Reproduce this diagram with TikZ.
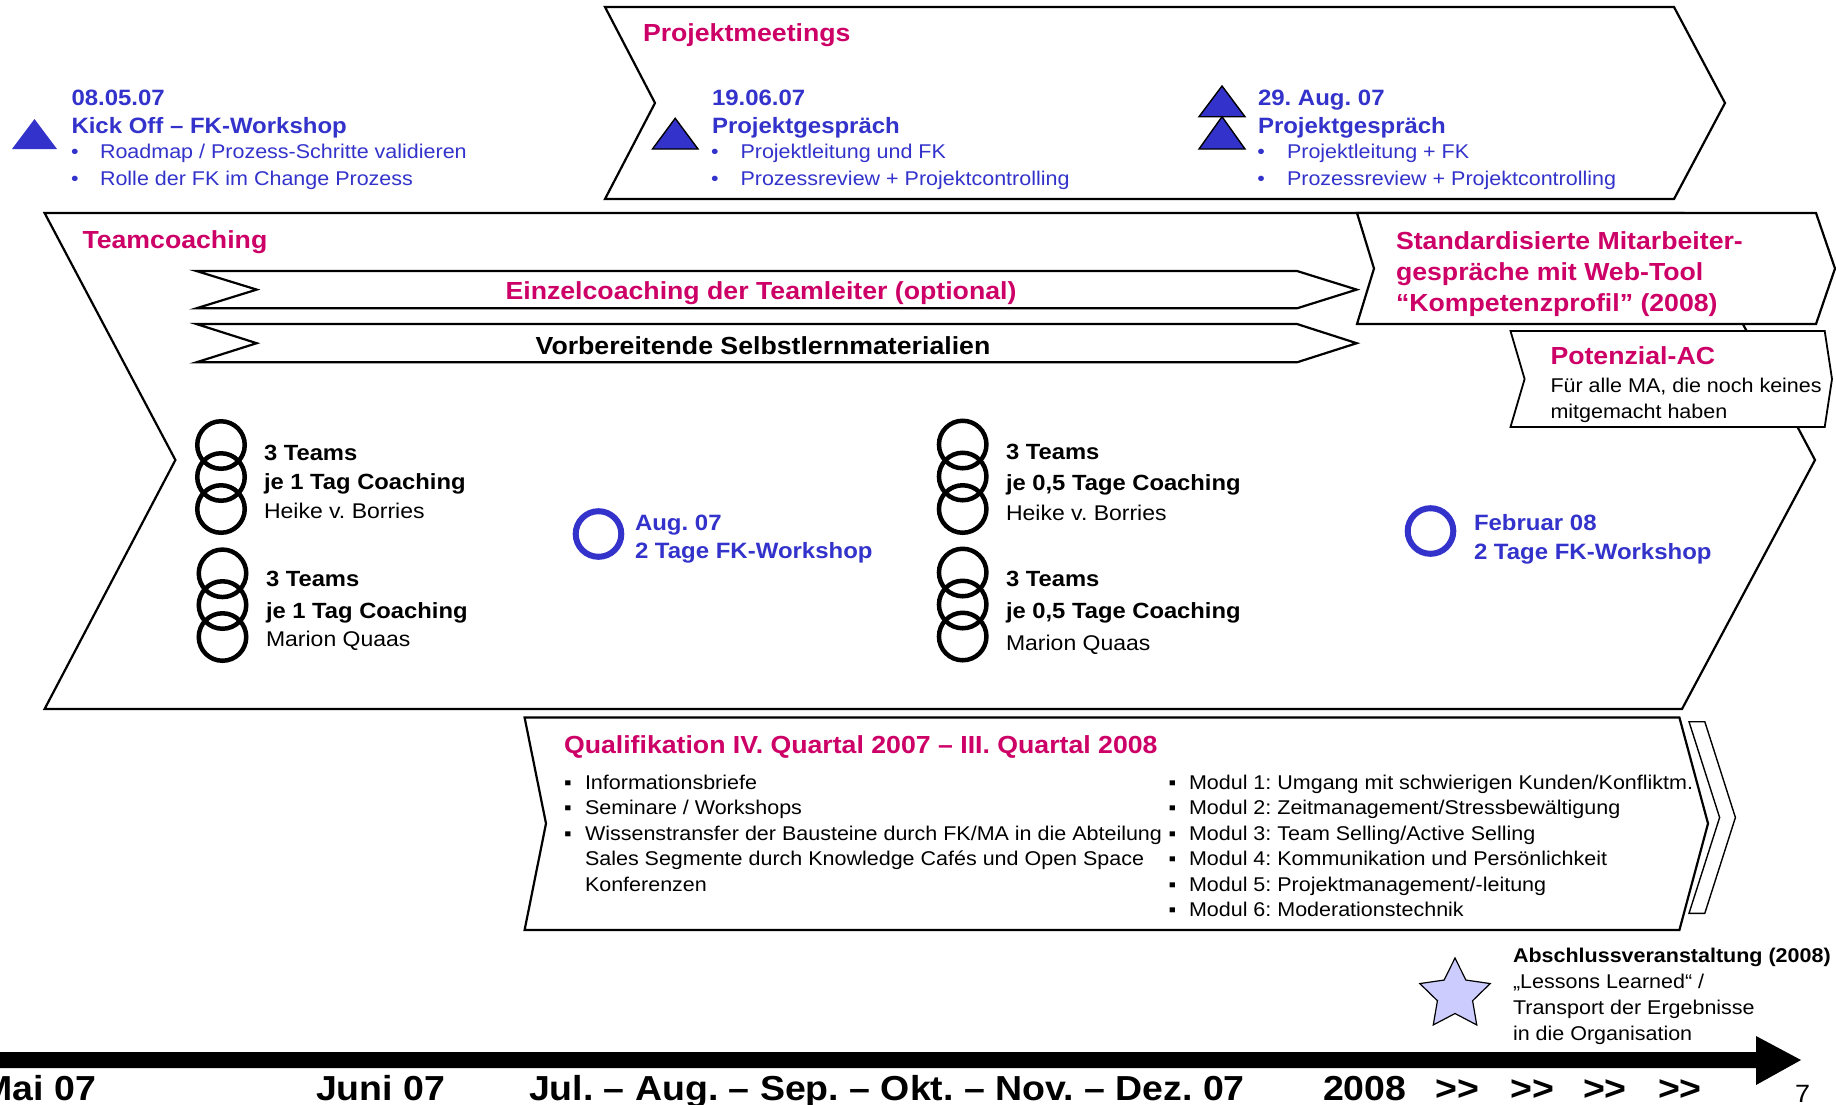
\documentclass[tikz,border=0pt]{standalone}
\usepackage{fontspec}
\setmainfont{Liberation Sans}[FakeStretch=1.08]
\frenchspacing
\usetikzlibrary{shapes.geometric}
\definecolor{tblue}{HTML}{3333CC}
\definecolor{tpink}{HTML}{CC0066}
\definecolor{starfill}{HTML}{CCCCFF}
\begin{document}
\begin{tikzpicture}[x=1pt,y=-1pt,
  txt/.style={anchor=base west,inner sep=0pt,outer sep=0pt},
  bul/.style={anchor=base,inner sep=0pt,outer sep=0pt},
  pinkhead/.style={txt,font=\fontsize{24.7}{30}\selectfont\bfseries,text=tpink},
  bluehead/.style={txt,font=\fontsize{22.2}{28}\selectfont\bfseries,text=tblue},
  bluebody/.style={txt,font=\fontsize{19.9}{26}\selectfont,text=tblue},
  bluebul/.style={bul,font=\fontsize{19.9}{26}\selectfont,text=tblue},
  body/.style={txt,font=\fontsize{19.9}{26}\selectfont,text=black},
  blackbul/.style={bul,font=\fontsize{19.9}{26}\selectfont,text=black},
  bodybold/.style={txt,font=\fontsize{19.9}{26}\selectfont\bfseries,text=black},
  coachbold/.style={txt,font=\fontsize{22}{28}\selectfont\bfseries,text=black},
  coachreg/.style={txt,font=\fontsize{21.3}{28}\selectfont,text=black},
  tline/.style={txt,font=\fontsize{34.7}{40}\selectfont\bfseries,text=black},
  frame/.style={draw=black,line width=2.2pt,fill=white,line join=miter},
  ring/.style={draw=black,line width=4.5pt},
  bluering/.style={draw=tblue,line width=6pt},
  tri/.style={fill=tblue,draw=black,line width=1.4pt,line join=miter}
]
\useasboundingbox (0,0) rectangle (1836,1104);
\clip (0,0) rectangle (1836,1104);
\fill[white] (0,0) rectangle (1836,1104);

% ---------- Kick off ----------
\fill[tblue] (12,149) -- (57,149) -- (34.5,119) -- cycle;
\node[bluehead] (ko1) at (71.5,105.5) {08.05.07};
\node[bluehead] (ko2) at (71.5,133) {Kick Off – FK-Workshop};
\node[bluebul] (ko3b) at (75,158.5) {•};
\node[bluebody] (ko3) at (100,158.5) {Roadmap / Prozess-Schritte validieren};
\node[bluebul] (ko4b) at (75,185.5) {•};
\node[bluebody] (ko4) at (100,185.5) {Rolle der FK im Change Prozess};

% ---------- Projektmeetings ----------
\draw[frame] (605,7) -- (1674,7) -- (1725,103) -- (1674,199) -- (605,199) -- (655,103) -- cycle;
\node[pinkhead] (pm) at (643,41.5) {Projektmeetings};
\draw[tri] (652.5,149) -- (698,149) -- (675.2,118.3) -- cycle;
\node[bluehead] (pa1) at (712,105.5) {19.06.07};
\node[bluehead] (pa2) at (712,133) {Projektgespräch};
\node[bluebul] (pa3b) at (715,158.5) {•};
\node[bluebody] (pa3) at (740.5,158.5) {Projektleitung und FK};
\node[bluebul] (pa4b) at (715,185.5) {•};
\node[bluebody] (pa4) at (740.5,185.5) {Prozessreview + Projektcontrolling};
\draw[tri] (1199,116.7) -- (1245,116.7) -- (1222,86) -- cycle;
\draw[tri] (1199,149) -- (1245,149) -- (1222,116.7) -- cycle;
\node[bluehead] (pb1) at (1258,105.5) {29. Aug. 07};
\node[bluehead] (pb2) at (1258,133) {Projektgespräch};
\node[bluebul] (pb3b) at (1261,158.5) {•};
\node[bluebody] (pb3) at (1287,158.5) {Projektleitung + FK};
\node[bluebul] (pb4b) at (1261,185.5) {•};
\node[bluebody] (pb4) at (1287,185.5) {Prozessreview + Projektcontrolling};

% ---------- Teamcoaching ----------
\draw[frame] (44.6,213) -- (1684,213) -- (1815,460) -- (1682,709) -- (44.6,709) -- (175.4,460) -- cycle;
\node[pinkhead] (tc) at (82.5,248) {Teamcoaching};
\draw[frame] (196.4,271) -- (1297,271) -- (1356.7,289.6) -- (1297,308.3) -- (196.4,308.3) -- (256.7,289.6) -- cycle;
\node[pinkhead,anchor=base] (ez) at (761,299) {Einzelcoaching der Teamleiter (optional)};
\draw[frame] (196.4,324) -- (1297,324) -- (1356.7,343.2) -- (1297,362.3) -- (196.4,362.3) -- (256.7,343.2) -- cycle;
\node[pinkhead,anchor=base,text=black] (vb) at (763,354) {Vorbereitende Selbstlernmaterialien};

% Standardisierte / Potenzial
\draw[frame] (1357,213) -- (1816,213) -- (1835,268.5) -- (1816,324) -- (1357,324) -- (1374,268.5) -- cycle;
\node[pinkhead] (st1) at (1396,249) {Standardisierte Mitarbeiter-};
\node[pinkhead] (st2) at (1396,280) {gespräche mit Web-Tool};
\node[pinkhead] (st3) at (1396,311) {“Kompetenzprofil” (2008)};
\draw[frame,line width=1.8pt] (1510.5,331) -- (1824.7,331) -- (1832,379) -- (1824.7,427) -- (1510.5,427) -- (1524.6,379) -- cycle;
\node[pinkhead] (po1) at (1550.5,364) {Potenzial-AC};
\node[body] (po2) at (1550.5,392) {Für alle MA, die noch keines};
\node[body] (po3) at (1550.5,418) {mitgemacht haben};

% rings group 1
\foreach \yy in {445,477,509} \draw[ring] (221,\yy) circle[radius=23.75];
\node[coachbold] (g1a) at (264,460.5) {3 Teams};
\node[coachbold] (g1b) at (264,489.5) {je 1 Tag Coaching};
\node[coachreg] (g1c) at (264,518) {Heike v. Borries};
% rings group 2
\foreach \yy in {573.3,605,637} \draw[ring] (222.5,\yy) circle[radius=23.75];
\node[coachbold] (g2a) at (266,586.7) {3 Teams};
\node[coachbold] (g2b) at (266,618) {je 1 Tag Coaching};
\node[coachreg] (g2c) at (266,646.5) {Marion Quaas};
% rings group 3
\foreach \yy in {444.5,476.5,509} \draw[ring] (962.7,\yy) circle[radius=23.75];
\node[coachbold] (g3a) at (1006,459) {3 Teams};
\node[coachbold] (g3b) at (1006,490) {je 0,5 Tage Coaching};
\node[coachreg] (g3c) at (1006,520.5) {Heike v. Borries};
% rings group 4
\foreach \yy in {572.5,604.5,636.5} \draw[ring] (962.7,\yy) circle[radius=23.75];
\node[coachbold] (g4a) at (1006,586.7) {3 Teams};
\node[coachbold] (g4b) at (1006,618) {je 0,5 Tage Coaching};
\node[coachreg] (g4c) at (1006,650) {Marion Quaas};

% workshops
\draw[bluering] (598.5,534) circle[radius=22.8];
\node[bluehead] (w1a) at (635,530) {Aug. 07};
\node[bluehead] (w1b) at (635,558) {2 Tage FK-Workshop};
\draw[bluering] (1430.5,531) circle[radius=22.8];
\node[bluehead] (w2a) at (1474,530.5) {Februar 08};
\node[bluehead] (w2b) at (1474,559.5) {2 Tage FK-Workshop};

% ---------- Qualifikation ----------
\draw[frame] (524.6,717.5) -- (1679.4,717.5) -- (1708,823.5) -- (1679.4,930) -- (524.6,930) -- (546,823.5) -- cycle;
\draw[draw=black,line width=1.4pt,fill=white,line join=miter] (1689,721.7) -- (1704.8,721.7) -- (1735.4,817.5) -- (1704.8,913.3) -- (1689,913.3) -- (1719.6,817.5) -- cycle;
\node[pinkhead] (q0) at (564,753) {Qualifikation IV. Quartal 2007 – III. Quartal 2008};
\node[blackbul] (q1b) at (568,789) {▪};
\node[body] (q1) at (585,789) {Informationsbriefe};
\node[blackbul] (q2b) at (568,814.5) {▪};
\node[body] (q2) at (585,814.5) {Seminare / Workshops};
\node[blackbul] (q3b) at (568,840) {▪};
\node[body] (q3) at (585,840) {Wissenstransfer der Bausteine durch FK/MA in die Abteilung};
\node[body] (q4) at (585,865.5) {Sales Segmente durch Knowledge Cafés und Open Space};
\node[body] (q5) at (585,891) {Konferenzen};
\node[blackbul] (m1b) at (1172.5,789) {▪};
\node[body] (m1) at (1189,789) {Modul 1: Umgang mit schwierigen Kunden/Konfliktm.};
\node[blackbul] (m2b) at (1172.5,814.5) {▪};
\node[body] (m2) at (1189,814.5) {Modul 2: Zeitmanagement/Stressbewältigung};
\node[blackbul] (m3b) at (1172.5,840) {▪};
\node[body] (m3) at (1189,840) {Modul 3: Team Selling/Active Selling};
\node[blackbul] (m4b) at (1172.5,865.5) {▪};
\node[body] (m4) at (1189,865.5) {Modul 4: Kommunikation und Persönlichkeit};
\node[blackbul] (m5b) at (1172.5,891) {▪};
\node[body] (m5) at (1189,891) {Modul 5: Projektmanagement/-leitung};
\node[blackbul] (m6b) at (1172.5,916.5) {▪};
\node[body] (m6) at (1189,916.5) {Modul 6: Moderationstechnik};

% ---------- Abschluss ----------
\node[star,star points=5,star point ratio=2.0,minimum size=74pt,inner sep=0pt,
      draw=black,line width=1.2pt,fill=starfill] (star) at (1455,995) {};
\node[bodybold] (ab1) at (1513,962) {Abschlussveranstaltung (2008)};
\node[body] (ab2) at (1513,988) {„Lessons Learned“ /};
\node[body] (ab3) at (1513,1014) {Transport der Ergebnisse};
\node[body] (ab4) at (1513,1040) {in die Organisation};

% ---------- Timeline ----------
\fill[black] (-5,1052) -- (1756,1052) -- (1756,1036) -- (1801,1060) -- (1756,1085) -- (1756,1068) -- (-5,1068) -- cycle;
\node[tline] (t1) at (-18.6,1100) {Mai 07};
\node[tline] (t2) at (316,1100) {Juni 07};
\node[tline] (t3) at (529,1100) {Jul. – Aug. – Sep. – Okt. – Nov. – Dez. 07};
\node[tline] (t4) at (1323,1100) {2008};
\node[tline] (t5) at (1435.5,1100) {>\kern0pt>};
\node[tline] (t6) at (1510.5,1100) {>\kern0pt>};
\node[tline] (t7) at (1583,1100) {>\kern0pt>};
\node[tline] (t8) at (1658,1100) {>\kern0pt>};
\node[txt,font=\fontsize{25}{30}\selectfont] (pg) at (1795,1102) {7};
\end{tikzpicture}
\end{document}
